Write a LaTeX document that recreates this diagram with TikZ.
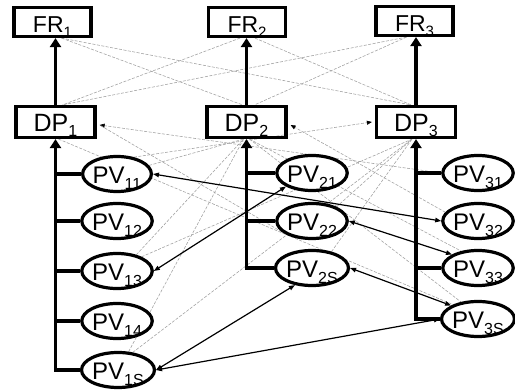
\documentclass[tikz,border=0pt]{standalone}
\usepackage{fontspec}
\setmainfont{Liberation Sans}
\usetikzlibrary{shapes.geometric,arrows.meta}
\pgfdeclarelayer{background}
\pgfsetlayers{background,main}
\newcommand{\frlbl}[2]{\raisebox{-11pt}[0pt][0pt]{\fontsize{23}{23}\selectfont #1\raisebox{-5pt}{\fontsize{15}{15}\selectfont #2}}}
\newcommand{\dplbl}[2]{\raisebox{-10pt}[0pt][0pt]{\fontsize{25}{25}\selectfont #1\raisebox{-5pt}{\fontsize{16}{16}\selectfont #2}}}
\newcommand{\pvlbl}[2]{\raisebox{-10pt}[0pt][0pt]{\fontsize{24}{24}\selectfont #1\raisebox{-6pt}{\fontsize{16}{16}\selectfont #2}}}
\tikzset{
  frbox/.style={draw, line width=3.2pt, minimum width=77pt, minimum height=29pt, inner sep=0pt},
  dpbox/.style={draw, line width=3.2pt, minimum width=79pt, minimum height=31pt, inner sep=0pt},
  pv/.style={draw, ellipse, line width=3.2pt, fill=white, minimum width=67pt, minimum height=35pt, inner sep=0pt},
  bus/.style={line width=3.2pt, line join=miter},
  bigtip/.style={-{Triangle[length=9pt,width=11pt]}},
  thin arrow/.style={line width=1.2pt, {Triangle[length=6pt,width=4.5pt]}-{Triangle[length=6pt,width=4.5pt]}},
  gl/.style={gray!75, line width=0.55pt, dash pattern=on 3pt off 1.5pt},
  gtip/.style={-{Triangle[length=5pt,width=4pt,color=black]}}
}
\begin{document}
\begin{tikzpicture}[x=1pt,y=-1pt]
\useasboundingbox (0,0) rectangle (515,390);
% FR boxes
\node[frbox] (FR1) at (52.5,22) {\frlbl{FR}{1}};
\node[frbox] (FR2) at (247,22) {\frlbl{FR}{2}};
\node[frbox] (FR3) at (414.5,21) {\frlbl{FR}{3}};
% DP boxes
\node[dpbox] (DP1) at (55.5,122) {\dplbl{DP}{1}};
\node[dpbox] (DP2) at (246.5,122) {\dplbl{DP}{2}};
\node[dpbox] (DP3) at (416,122) {\dplbl{DP}{3}};
% PV ellipses
\node[pv] (PV11) at (117,174) {\pvlbl{PV}{11}};
\node[pv] (PV12) at (117,221) {\pvlbl{PV}{12}};
\node[pv] (PV13) at (117,271) {\pvlbl{PV}{13}};
\node[pv] (PV14) at (117,321) {\pvlbl{PV}{14}};
\node[pv] (PV1S) at (118,370) {\pvlbl{PV}{1S}};
\node[pv] (PV21) at (312,173) {\pvlbl{PV}{21}};
\node[pv] (PV22) at (312,221) {\pvlbl{PV}{22}};
\node[pv] (PV2S) at (312,268) {\pvlbl{PV}{2S}};
\node[pv] (PV31) at (478,173) {\pvlbl{PV}{31}};
\node[pv] (PV32) at (478,221) {\pvlbl{PV}{32}};
\node[pv] (PV33) at (478,268) {\pvlbl{PV}{33}};
\node[pv] (PV3S) at (478,319) {\pvlbl{PV}{3S}};
% gray coupling lines
\begin{pgfonlayer}{background}
\fill[white] (0,0) rectangle (515,390);
\draw[gl] ([xshift=9pt]FR1.south) -- ([xshift=-4pt]DP2.north);
\draw[gl] ([xshift=9pt]FR1.south) -- ([xshift=-5pt]DP3.north);
\draw[gl] ([xshift=-7pt]FR2.south) -- ([xshift=7pt]DP1.north);
\draw[gl] ([xshift=8pt]FR2.south) -- ([xshift=-5pt]DP3.north);
\draw[gl] ([xshift=-8pt]FR3.south) -- ([xshift=7pt]DP1.north);
\draw[gl] ([xshift=-8pt]FR3.south) -- ([xshift=8pt]DP2.north);
\draw[gl,gtip] (PV31.west) -- ([xshift=3pt,yshift=-3pt]DP1.east);
\draw[gl] (PV22.200) -- ([xshift=3pt,yshift=-3pt]DP1.east);
\draw[gl,gtip] (PV32.165) -- ([xshift=3pt,yshift=-3pt]DP2.east);
\draw[gl,gtip] (PV11.45) -- ([xshift=-3pt]DP3.west);
\draw[gl] (PV11.15) -- ([xshift=-3pt]DP2.south);
\draw[gl] (PV13.40) -- ([xshift=-3pt]DP2.south);
\draw[gl] (PV1S.60) -- ([xshift=-3pt]DP2.south);
\draw[gl] (PV13.30) -- ([xshift=-4pt]DP3.south);
\draw[gl] (PV1S.50) -- ([xshift=-4pt]DP3.south);
\draw[gl] (PV22.30) -- ([xshift=-4pt]DP3.south);
\draw[gl] (PV2S.40) -- ([xshift=-4pt]DP3.south);
\draw[gl] ([xshift=3pt]DP2.south) -- (PV33.135);
\draw[gl] ([xshift=3pt]DP2.south) -- (PV3S.135);
\draw[gl] ([xshift=3pt]DP1.south) -- (PV3S.150);
\end{pgfonlayer}
% DP -> FR
\draw[bus,bigtip] (DP1.north) -- (DP1.north |- FR1.south);
\draw[bus,bigtip] (DP2.north) -- (DP2.north |- FR2.south);
\draw[bus,bigtip] (DP3.north) -- (DP3.north |- FR3.south);
% buses column 1
\draw[bus,bigtip] (PV1S.west) -| (DP1.south);
\draw[bus] (DP1.south |- PV11.west) -- (PV11.west);
\draw[bus] (DP1.south |- PV12.west) -- (PV12.west);
\draw[bus] (DP1.south |- PV13.west) -- (PV13.west);
\draw[bus] (DP1.south |- PV14.west) -- (PV14.west);
% column 2
\draw[bus,bigtip] (PV2S.west) -| (DP2.south);
\draw[bus] (DP2.south |- PV21.west) -- (PV21.west);
\draw[bus] (DP2.south |- PV22.west) -- (PV22.west);
% column 3
\draw[bus,bigtip] (PV3S.west) -| (DP3.south);
\draw[bus] (DP3.south |- PV31.west) -- (PV31.west);
\draw[bus] (DP3.south |- PV33.west) -- (PV33.west);
% black couplings
\draw[thin arrow] (PV11.east) -- (PV32.west);
\draw[thin arrow] (PV13.east) -- (PV21.south west);
\draw[thin arrow] (PV1S.east) -- (PV2S.225);
\draw[thin arrow] (PV1S.east) -- (PV3S.west);
\draw[thin arrow] (PV22.east) -- (PV33.north west);
\draw[thin arrow] (PV2S.east) -- (PV3S.north west);
\end{tikzpicture}
\end{document}
